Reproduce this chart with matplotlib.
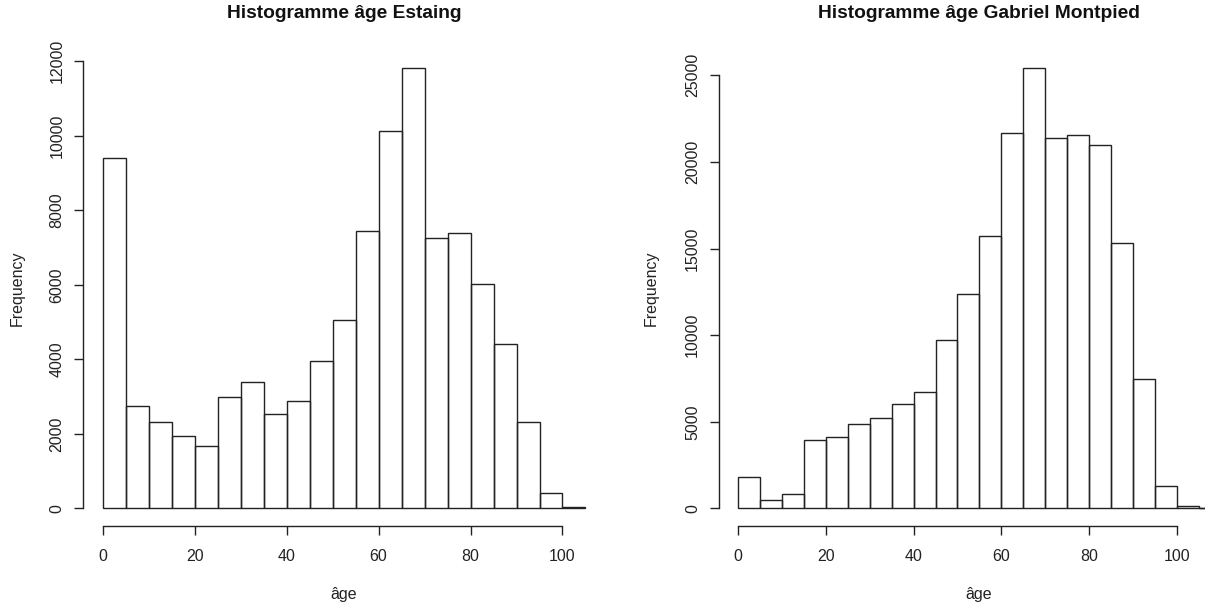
import numpy as np
import matplotlib.pyplot as plt

plt.rcParams['font.family'] = ['Liberation Sans', 'DejaVu Sans']

# histogram counts, 5-year bins
edges_estaing = [0, 5, 10, 15, 20, 25, 30, 35, 40, 45, 50, 55, 60, 65, 70, 75, 80, 85, 90, 95, 100, 105]
counts_estaing = [9400, 2760, 2330, 1950, 1680, 2980, 3400, 2540, 2870, 3950, 5070, 7440, 10140, 11810,
                  7270, 7390, 6010, 4400, 2330, 400, 50]

edges_gm = [0, 5, 10, 15, 20, 25, 30, 35, 40, 45, 50, 55, 60, 65, 70, 75, 80, 85, 90, 95, 100, 105, 110]
counts_gm = [1840, 490, 850, 3920, 4140, 4900, 5240, 6050, 6740, 9750, 12370, 15720, 21660, 25400,
             21410, 21530, 20970, 15300, 7460, 1300, 110, 0]

xticks = [0, 20, 40, 60, 80, 100]
yticks_estaing = [0, 2000, 4000, 6000, 8000, 10000, 12000]
yticks_gm = [0, 5000, 10000, 15000, 20000, 25000]

W, H = 1205, 609
fig = plt.figure(figsize=(W / 100, H / 100), dpi=100)

panels = [
    (edges_estaing, counts_estaing, yticks_estaing, "Histogramme âge Estaing", 83.4, 344, 17),
    (edges_gm, counts_gm, yticks_gm, "Histogramme âge Gabriel Montpied", 718.7, 979, 651),
]

for edges, counts, yticks, title, left_px, center_px, ylab_px in panels:
    ax = fig.add_axes([left_px / W, 1 - 526 / H, 521.4 / W, (526 - 50.8) / H])
    e = np.array(edges, dtype=float)
    c = np.array(counts, dtype=float)
    ax.bar(e[:-1], c, width=np.diff(e), align='edge', fill=False, edgecolor='#222222', linewidth=1.0)

    span = e[-1] - e[0]
    ax.set_xlim(e[0] - 0.04 * span, e[-1] + 0.04 * span)
    ax.set_ylim(-0.04 * c.max(), 1.04 * c.max())

    for s in ['top', 'right']:
        ax.spines[s].set_visible(False)
    ax.spines['left'].set_bounds(yticks[0], yticks[-1])
    ax.spines['bottom'].set_bounds(xticks[0], xticks[-1])
    for s in ['left', 'bottom']:
        ax.spines[s].set_linewidth(1.0)
        ax.spines[s].set_color('#222222')

    ax.set_xticks(xticks)
    ax.set_yticks(yticks)
    ax.set_yticklabels([str(t) for t in yticks], rotation=90, va='center')
    ax.tick_params(direction='out', length=6.5, width=1.0, color='#222222',
                   labelsize=11.5, labelcolor='#222222')
    ax.tick_params(axis='x', pad=10)
    ax.tick_params(axis='y', pad=7)
    ax.patch.set_visible(False)

    fig.text(center_px / W, 1 - 13 / H, title, ha='center', va='center',
             fontsize=13.8, fontweight='bold', color='#111111')
    fig.text(ylab_px / W, 1 - 288 / H, "Frequency", rotation=90, ha='center', va='center',
             fontsize=11.5, color='#222222')
    fig.text(center_px / W, 1 - 594 / H, "âge", ha='center', va='center',
             fontsize=11.5, color='#222222')

fig.savefig("out.png", dpi=100)
